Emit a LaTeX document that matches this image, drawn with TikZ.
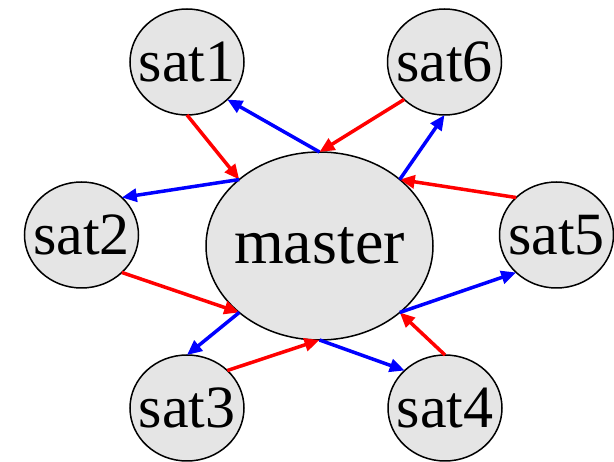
\documentclass[tikz,border=0pt]{standalone}
\usepackage{fontspec}
\setmainfont{Liberation Serif}
\usetikzlibrary{shapes.geometric,arrows.meta}
\definecolor{nodefill}{RGB}{229,229,229}
\definecolor{toM}{RGB}{255,0,0}
\definecolor{fromM}{RGB}{0,0,255}
\tikzset{
  sat/.style={ellipse, draw=black, line width=1.5pt, fill=nodefill,
    minimum width=114pt, minimum height=106pt, inner sep=-30pt, outer sep=0pt,
    font=\fontsize{60pt}{60pt}\selectfont},
  hub/.style={sat, minimum width=227pt, minimum height=188pt,
    font=\fontsize{64pt}{64pt}\selectfont},
  link/.style={line width=3.5pt, -{Triangle[length=15pt,width=13pt]}},
  inlink/.style={link, draw=toM, fill=toM},
  outlink/.style={link, draw=fromM, fill=fromM}
}
\begin{document}
\begin{tikzpicture}[x=1pt, y=-1pt]
  \useasboundingbox (0,0) rectangle (614,462);
  % nodes
  \node[hub] (m) at (319.5,246) {master};
  \node[sat] (s1) at (187,62) {sat1};
  \node[sat] (s6) at (444.5,62) {sat6};
  \node[sat] (s2) at (81.5,235) {sat2};
  \node[sat] (s5) at (556.5,235) {sat5};
  \node[sat] (s3) at (187,408) {sat3};
  \node[sat] (s4) at (445,408) {sat4};
  % satellites to master
  \draw[inlink] (s1.south) -- (m.north west);
  \draw[inlink] (s6.south west) -- (m.north);
  \draw[inlink] (s5.north west) -- (m.north east);
  \draw[inlink] (s2.south east) -- (m.south west);
  \draw[inlink] (s3.north east) -- (m.south);
  \draw[inlink] (s4.north) -- (m.south east);
  % master to satellites
  \draw[outlink] (m.north) -- (s1.south east);
  \draw[outlink] (m.north east) -- (s6.south);
  \draw[outlink] (m.north west) -- (s2.north east);
  \draw[outlink] (m.south west) -- (s3.north);
  \draw[outlink] (m.south) -- (s4.north west);
  \draw[outlink] (m.south east) -- (s5.south west);
\end{tikzpicture}
\end{document}
